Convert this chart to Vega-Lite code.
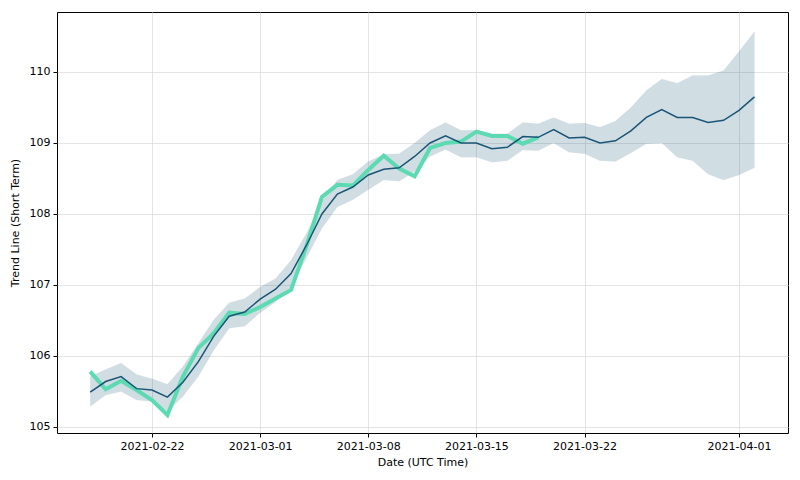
{
  "$schema": "https://vega.github.io/schema/vega-lite/v6.json",
  "width": 731,
  "height": 421,
  "autosize": {"type": "none"},
  "padding": {"left": 57, "top": 12, "right": 12, "bottom": 47},
  "background": "white",
  "config": {
    "font": "DejaVu Sans",
    "view": {"stroke": "black", "strokeWidth": 1},
    "axis": {
      "labelFont": "DejaVu Sans", "titleFont": "DejaVu Sans",
      "labelFontSize": 11, "titleFontSize": 11, "titleFontWeight": "normal",
      "labelColor": "black", "titleColor": "black",
      "gridColor": "#dddddd", "gridWidth": 0.8,
      "tickColor": "black", "tickSize": 4, "domain": false
    }
  },
  "data": {"values": [
    {"date": "2021-02-18", "trend": 105.49, "lo": 105.29, "up": 105.71, "act": 105.78},
    {"date": "2021-02-19", "trend": 105.64, "lo": 105.45, "up": 105.81, "act": 105.53},
    {"date": "2021-02-20", "trend": 105.71, "lo": 105.50, "up": 105.90, "act": 105.65},
    {"date": "2021-02-21", "trend": 105.54, "lo": 105.38, "up": 105.74, "act": 105.52},
    {"date": "2021-02-22", "trend": 105.52, "lo": 105.36, "up": 105.68, "act": 105.38},
    {"date": "2021-02-23", "trend": 105.42, "lo": 105.22, "up": 105.60, "act": 105.17},
    {"date": "2021-02-24", "trend": 105.63, "lo": 105.43, "up": 105.85, "act": 105.71},
    {"date": "2021-02-25", "trend": 105.92, "lo": 105.71, "up": 106.18, "act": 106.11},
    {"date": "2021-02-26", "trend": 106.28, "lo": 106.08, "up": 106.51, "act": 106.32},
    {"date": "2021-02-27", "trend": 106.56, "lo": 106.39, "up": 106.75, "act": 106.61},
    {"date": "2021-02-28", "trend": 106.62, "lo": 106.42, "up": 106.81, "act": 106.59},
    {"date": "2021-03-01", "trend": 106.80, "lo": 106.61, "up": 106.97, "act": 106.69},
    {"date": "2021-03-02", "trend": 106.94, "lo": 106.76, "up": 107.09, "act": 106.81},
    {"date": "2021-03-03", "trend": 107.16, "lo": 106.98, "up": 107.35, "act": 106.93},
    {"date": "2021-03-04", "trend": 107.56, "lo": 107.38, "up": 107.73, "act": 107.55},
    {"date": "2021-03-05", "trend": 108.00, "lo": 107.80, "up": 108.18, "act": 108.24},
    {"date": "2021-03-06", "trend": 108.28, "lo": 108.10, "up": 108.48, "act": 108.41},
    {"date": "2021-03-07", "trend": 108.38, "lo": 108.20, "up": 108.56, "act": 108.40},
    {"date": "2021-03-08", "trend": 108.55, "lo": 108.34, "up": 108.74, "act": 108.62},
    {"date": "2021-03-09", "trend": 108.63, "lo": 108.48, "up": 108.84, "act": 108.82},
    {"date": "2021-03-10", "trend": 108.65, "lo": 108.46, "up": 108.85, "act": 108.64},
    {"date": "2021-03-11", "trend": 108.81, "lo": 108.60, "up": 109.00, "act": 108.53},
    {"date": "2021-03-12", "trend": 109.00, "lo": 108.81, "up": 109.18, "act": 108.93},
    {"date": "2021-03-13", "trend": 109.10, "lo": 108.91, "up": 109.29, "act": 109.00},
    {"date": "2021-03-14", "trend": 109.00, "lo": 108.80, "up": 109.18, "act": 109.02},
    {"date": "2021-03-15", "trend": 109.00, "lo": 108.80, "up": 109.18, "act": 109.16},
    {"date": "2021-03-16", "trend": 108.92, "lo": 108.73, "up": 109.13, "act": 109.10},
    {"date": "2021-03-17", "trend": 108.94, "lo": 108.75, "up": 109.13, "act": 109.10},
    {"date": "2021-03-18", "trend": 109.09, "lo": 108.90, "up": 109.29, "act": 108.99},
    {"date": "2021-03-19", "trend": 109.08, "lo": 108.89, "up": 109.27, "act": 109.08},
    {"date": "2021-03-20", "trend": 109.19, "lo": 109.00, "up": 109.36, "act": null},
    {"date": "2021-03-21", "trend": 109.07, "lo": 108.87, "up": 109.27, "act": null},
    {"date": "2021-03-22", "trend": 109.08, "lo": 108.85, "up": 109.28, "act": null},
    {"date": "2021-03-23", "trend": 109.00, "lo": 108.75, "up": 109.22, "act": null},
    {"date": "2021-03-24", "trend": 109.03, "lo": 108.74, "up": 109.31, "act": null},
    {"date": "2021-03-25", "trend": 109.17, "lo": 108.86, "up": 109.50, "act": null},
    {"date": "2021-03-26", "trend": 109.36, "lo": 108.99, "up": 109.74, "act": null},
    {"date": "2021-03-27", "trend": 109.47, "lo": 109.00, "up": 109.90, "act": null},
    {"date": "2021-03-28", "trend": 109.36, "lo": 108.80, "up": 109.84, "act": null},
    {"date": "2021-03-29", "trend": 109.36, "lo": 108.75, "up": 109.95, "act": null},
    {"date": "2021-03-30", "trend": 109.29, "lo": 108.56, "up": 109.95, "act": null},
    {"date": "2021-03-31", "trend": 109.32, "lo": 108.48, "up": 110.02, "act": null},
    {"date": "2021-04-01", "trend": 109.46, "lo": 108.55, "up": 110.29, "act": null},
    {"date": "2021-04-02", "trend": 109.65, "lo": 108.65, "up": 110.57, "act": null}
  ]},
  "encoding": {
    "x": {
      "field": "date", "type": "temporal",
      "scale": {"type": "utc", "domain": [{"year": 2021, "month": 2, "date": 15, "hours": 20, "minutes": 24, "utc": true}, {"year": 2021, "month": 4, "date": 4, "hours": 4, "minutes": 5, "utc": true}]},
      "axis": {
        "title": "Date (UTC Time)",
        "labelExpr": "utcFormat(datum.value, '%Y-%m-%d')",
        "values": [
          {"year": 2021, "month": 2, "date": 22, "utc": true},
          {"year": 2021, "month": 3, "date": 1, "utc": true},
          {"year": 2021, "month": 3, "date": 8, "utc": true},
          {"year": 2021, "month": 3, "date": 15, "utc": true},
          {"year": 2021, "month": 3, "date": 22, "utc": true},
          {"year": 2021, "month": 4, "date": 1, "utc": true}
        ],
        "labelPadding": 3, "titlePadding": 5, "labelFlush": false, "labelOverlap": false
      }
    }
  },
  "layer": [
    {
      "mark": {"type": "area", "color": "#1b5a7a", "opacity": 0.2, "stroke": "#1b5a7a", "strokeOpacity": 0.15, "strokeWidth": 1},
      "encoding": {
        "y": {"field": "lo", "type": "quantitative", "scale": {"domain": [104.915, 110.845], "nice": false, "zero": false},
          "axis": {"title": "Trend Line (Short Term)", "values": [105, 106, 107, 108, 109, 110], "format": "d", "labelPadding": 3, "titlePadding": 9}},
        "y2": {"field": "up"}
      }
    },
    {
      "transform": [{"filter": "datum.act != null"}],
      "mark": {"type": "line", "color": "#5cdab2", "strokeWidth": 4, "strokeJoin": "miter"},
      "encoding": {"y": {"field": "act", "type": "quantitative"}}
    },
    {
      "mark": {"type": "line", "color": "#1a5576", "strokeWidth": 1.5},
      "encoding": {"y": {"field": "trend", "type": "quantitative"}}
    }
  ]
}
